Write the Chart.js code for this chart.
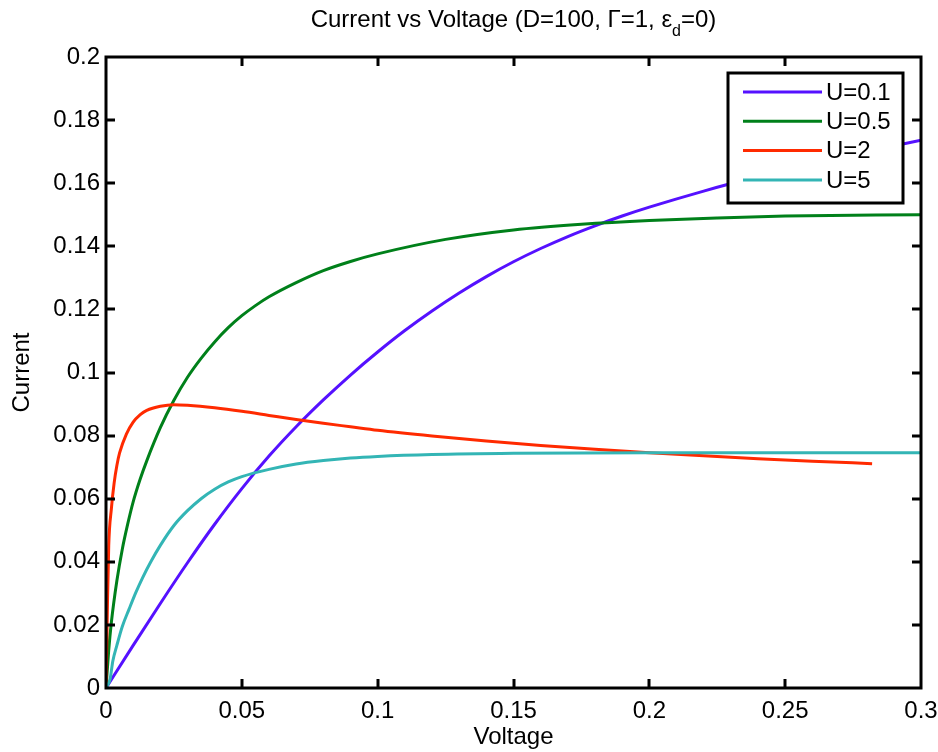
<!DOCTYPE html>
<html>
<head>
<meta charset="utf-8">
<script src="https://cdn.jsdelivr.net/npm/chart.js@4.4.1/dist/chart.umd.min.js"></script>
<style>
  html, body { margin: 0; padding: 0; background: #fff; }
  canvas { display: block; }
</style>
</head>
<body>
<canvas id="ivChart" width="938" height="752"></canvas>
<script>
// values
const seriesLabels = ['U=0.1', 'U=0.5', 'U=2', 'U=5'];
const seriesColors = ['#5511ff', '#00801a', '#ff2a00', '#33b5b5'];

const voltU01 = [0, 0.01, 0.02, 0.03, 0.04, 0.05, 0.06, 0.07, 0.08, 0.09, 0.1, 0.11, 0.12, 0.13, 0.14, 0.15, 0.16, 0.17, 0.18, 0.19, 0.2, 0.22, 0.24, 0.26, 0.28, 0.3];
const currU01 = [0, 0.0135, 0.0268, 0.0397, 0.0519, 0.0632, 0.0735, 0.0828, 0.0913, 0.0992, 0.1065, 0.1133, 0.1195, 0.1252, 0.1304, 0.1351, 0.1393, 0.1431, 0.1465, 0.1496, 0.1524, 0.1575, 0.1621, 0.1663, 0.1701, 0.1736];

const voltU05 = [0, 0.001, 0.002, 0.004, 0.006, 0.008, 0.01, 0.0125, 0.015, 0.02, 0.025, 0.03, 0.035, 0.04, 0.045, 0.05, 0.055, 0.06, 0.07, 0.08, 0.09, 0.1, 0.125, 0.15, 0.175, 0.2, 0.225, 0.25, 0.3];
const currU05 = [0, 0.012, 0.021, 0.034, 0.044, 0.052, 0.059, 0.066, 0.072, 0.0825, 0.0912, 0.0985, 0.1045, 0.1097, 0.1142, 0.118, 0.1212, 0.124, 0.1285, 0.1323, 0.1352, 0.1376, 0.1422, 0.1452, 0.147, 0.1482, 0.149, 0.1496, 0.150];

const voltU2 = [0, 0.0005, 0.001, 0.002, 0.003, 0.004, 0.005, 0.0075, 0.01, 0.0125, 0.015, 0.02, 0.025, 0.03, 0.04, 0.05, 0.06, 0.07, 0.08, 0.09, 0.1, 0.12, 0.14, 0.16, 0.18, 0.2, 0.22, 0.24, 0.26, 0.282];
const currU2 = [0, 0.025, 0.045, 0.057, 0.065, 0.0705, 0.0745, 0.0805, 0.0843, 0.0866, 0.088, 0.0893, 0.0898, 0.0896, 0.0888, 0.0877, 0.0864, 0.0851, 0.0839, 0.0828, 0.0817, 0.0799, 0.0783, 0.0769, 0.0757, 0.0746, 0.0736, 0.0727, 0.0719, 0.0711];

const voltU5 = [0, 0.0015, 0.0025, 0.004, 0.006, 0.0085, 0.011, 0.0135, 0.0165, 0.02, 0.025, 0.03, 0.035, 0.04, 0.045, 0.05, 0.06, 0.07, 0.08, 0.09, 0.1, 0.12, 0.15, 0.2, 0.3];
const currU5 = [0, 0.0028, 0.0085, 0.0135, 0.0195, 0.025, 0.0303, 0.035, 0.04, 0.0452, 0.0515, 0.0562, 0.06, 0.063, 0.0653, 0.067, 0.0693, 0.071, 0.0721, 0.0729, 0.0734, 0.074, 0.0744, 0.0746, 0.0746];

const xTicks = [0, 0.05, 0.1, 0.15, 0.2, 0.25, 0.3];
const yTicks = [0, 0.02, 0.04, 0.06, 0.08, 0.1, 0.12, 0.14, 0.16, 0.18, 0.2];

const FONT = "'Liberation Sans', Arial, Helvetica, sans-serif";

function toPoints(xs, ys) {
    return xs.map((x, i) => ({ x: x, y: ys[i] }));
}

const allVolt = [voltU01, voltU05, voltU2, voltU5];
const allCurr = [currU01, currU05, currU2, currU5];

const datasets = seriesLabels.map((label, i) => ({
    label: label,
    data: toPoints(allVolt[i], allCurr[i]),
    borderColor: seriesColors[i],
    backgroundColor: seriesColors[i],
    borderWidth: 3,
    pointRadius: 0,
    fill: false,
    cubicInterpolationMode: 'monotone',
    order: seriesLabels.length - i
}));

// title with a subscript d, drawn as text
const titlePlugin = {
    id: 'subTitle',
    afterDraw(chart) {
        const ctx = chart.ctx;
        const area = chart.chartArea;
        const head = 'Current vs Voltage (D=100, \u0393=1, \u03b5';
        const sub = 'd';
        const tail = '=0)';
        ctx.save();
        ctx.fillStyle = '#000';
        ctx.textBaseline = 'alphabetic';
        ctx.font = '24px ' + FONT;
        const wHead = ctx.measureText(head).width;
        const wTail = ctx.measureText(tail).width;
        ctx.font = '16px ' + FONT;
        const wSub = ctx.measureText(sub).width;
        let x = (area.left + area.right) / 2 - (wHead + wSub + wTail) / 2;
        const base = 27;
        ctx.font = '24px ' + FONT;
        ctx.fillText(head, x, base);
        x += wHead;
        ctx.font = '16px ' + FONT;
        ctx.fillText(sub, x, base + 9);
        x += wSub;
        ctx.font = '24px ' + FONT;
        ctx.fillText(tail, x, base);
        ctx.restore();
    }
};

// MATLAB style box with inward ticks, and the boxed legend
const framePlugin = {
    id: 'frame',
    afterDatasetsDraw(chart) {
        const ctx = chart.ctx;
        const a = chart.chartArea;
        const xs = chart.scales.x;
        const ys = chart.scales.y;
        const tl = 9;
        ctx.save();
        ctx.strokeStyle = '#000';
        ctx.lineWidth = 3;
        ctx.beginPath();
        xTicks.slice(1, -1).forEach(v => {
            const p = Math.round(xs.getPixelForValue(v));
            ctx.moveTo(p, a.bottom); ctx.lineTo(p, a.bottom - tl);
            ctx.moveTo(p, a.top); ctx.lineTo(p, a.top + tl);
        });
        yTicks.slice(1, -1).forEach(v => {
            const p = Math.round(ys.getPixelForValue(v));
            ctx.moveTo(a.left, p); ctx.lineTo(a.left + tl, p);
            ctx.moveTo(a.right, p); ctx.lineTo(a.right - tl, p);
        });
        ctx.stroke();
        ctx.strokeRect(a.left, a.top, a.right - a.left, a.bottom - a.top);

        // legend box
        const bw = 175, bh = 130;
        const bx = a.right - 18 - bw;
        const by = a.top + 16;
        ctx.fillStyle = '#fff';
        ctx.fillRect(bx, by, bw, bh);
        ctx.strokeRect(bx, by, bw, bh);
        ctx.font = '24px ' + FONT;
        ctx.textBaseline = 'middle';
        chart.data.datasets.forEach((ds, i) => {
            const ry = by + 19 + i * 29.3;
            ctx.strokeStyle = ds.borderColor;
            ctx.lineWidth = 3;
            ctx.beginPath();
            ctx.moveTo(bx + 15, ry);
            ctx.lineTo(bx + 94, ry);
            ctx.stroke();
            ctx.fillStyle = '#000';
            ctx.fillText(ds.label, bx + 98, ry + 1);
        });
        ctx.restore();
    }
};

const ctx = document.getElementById('ivChart').getContext('2d');
const ivChart = new Chart(ctx, {
    type: 'line',
    data: { datasets: datasets },
    options: {
        responsive: false,
        animation: false,
        devicePixelRatio: 1,
        layout: { padding: { top: 57, right: 17, left: 0, bottom: 0 } },
        plugins: {
            legend: { display: false },
            title: { display: false },
            tooltip: { enabled: false }
        },
        scales: {
            x: {
                type: 'linear',
                min: 0,
                max: 0.3,
                grid: { display: false, drawTicks: false },
                border: { display: false },
                afterBuildTicks: scale => { scale.ticks = xTicks.map(v => ({ value: v })); },
                afterFit: scale => { scale.height = 64; scale.paddingLeft = 0; scale.paddingRight = 0; },
                ticks: {
                    color: '#000',
                    padding: 9,
                    maxRotation: 0,
                    autoSkip: false,
                    font: { family: FONT, size: 24 },
                    callback: v => String(Number(v.toFixed(3)))
                },
                title: {
                    display: true,
                    text: 'Voltage',
                    color: '#000',
                    padding: 0,
                    font: { family: FONT, size: 24 }
                }
            },
            y: {
                type: 'linear',
                min: 0,
                max: 0.2,
                grid: { display: false, drawTicks: false },
                border: { display: false },
                afterBuildTicks: scale => { scale.ticks = yTicks.map(v => ({ value: v })); },
                afterFit: scale => { scale.width = 106; scale.paddingTop = 0; scale.paddingBottom = 0; },
                ticks: {
                    color: '#000',
                    padding: 6,
                    autoSkip: false,
                    font: { family: FONT, size: 24 },
                    callback: v => String(Number(v.toFixed(3)))
                },
                title: {
                    display: true,
                    text: 'Current',
                    color: '#000',
                    padding: { top: 8, bottom: 8 },
                    font: { family: FONT, size: 24 }
                }
            }
        }
    },
    plugins: [framePlugin, titlePlugin]
});
</script>
</body>
</html>
